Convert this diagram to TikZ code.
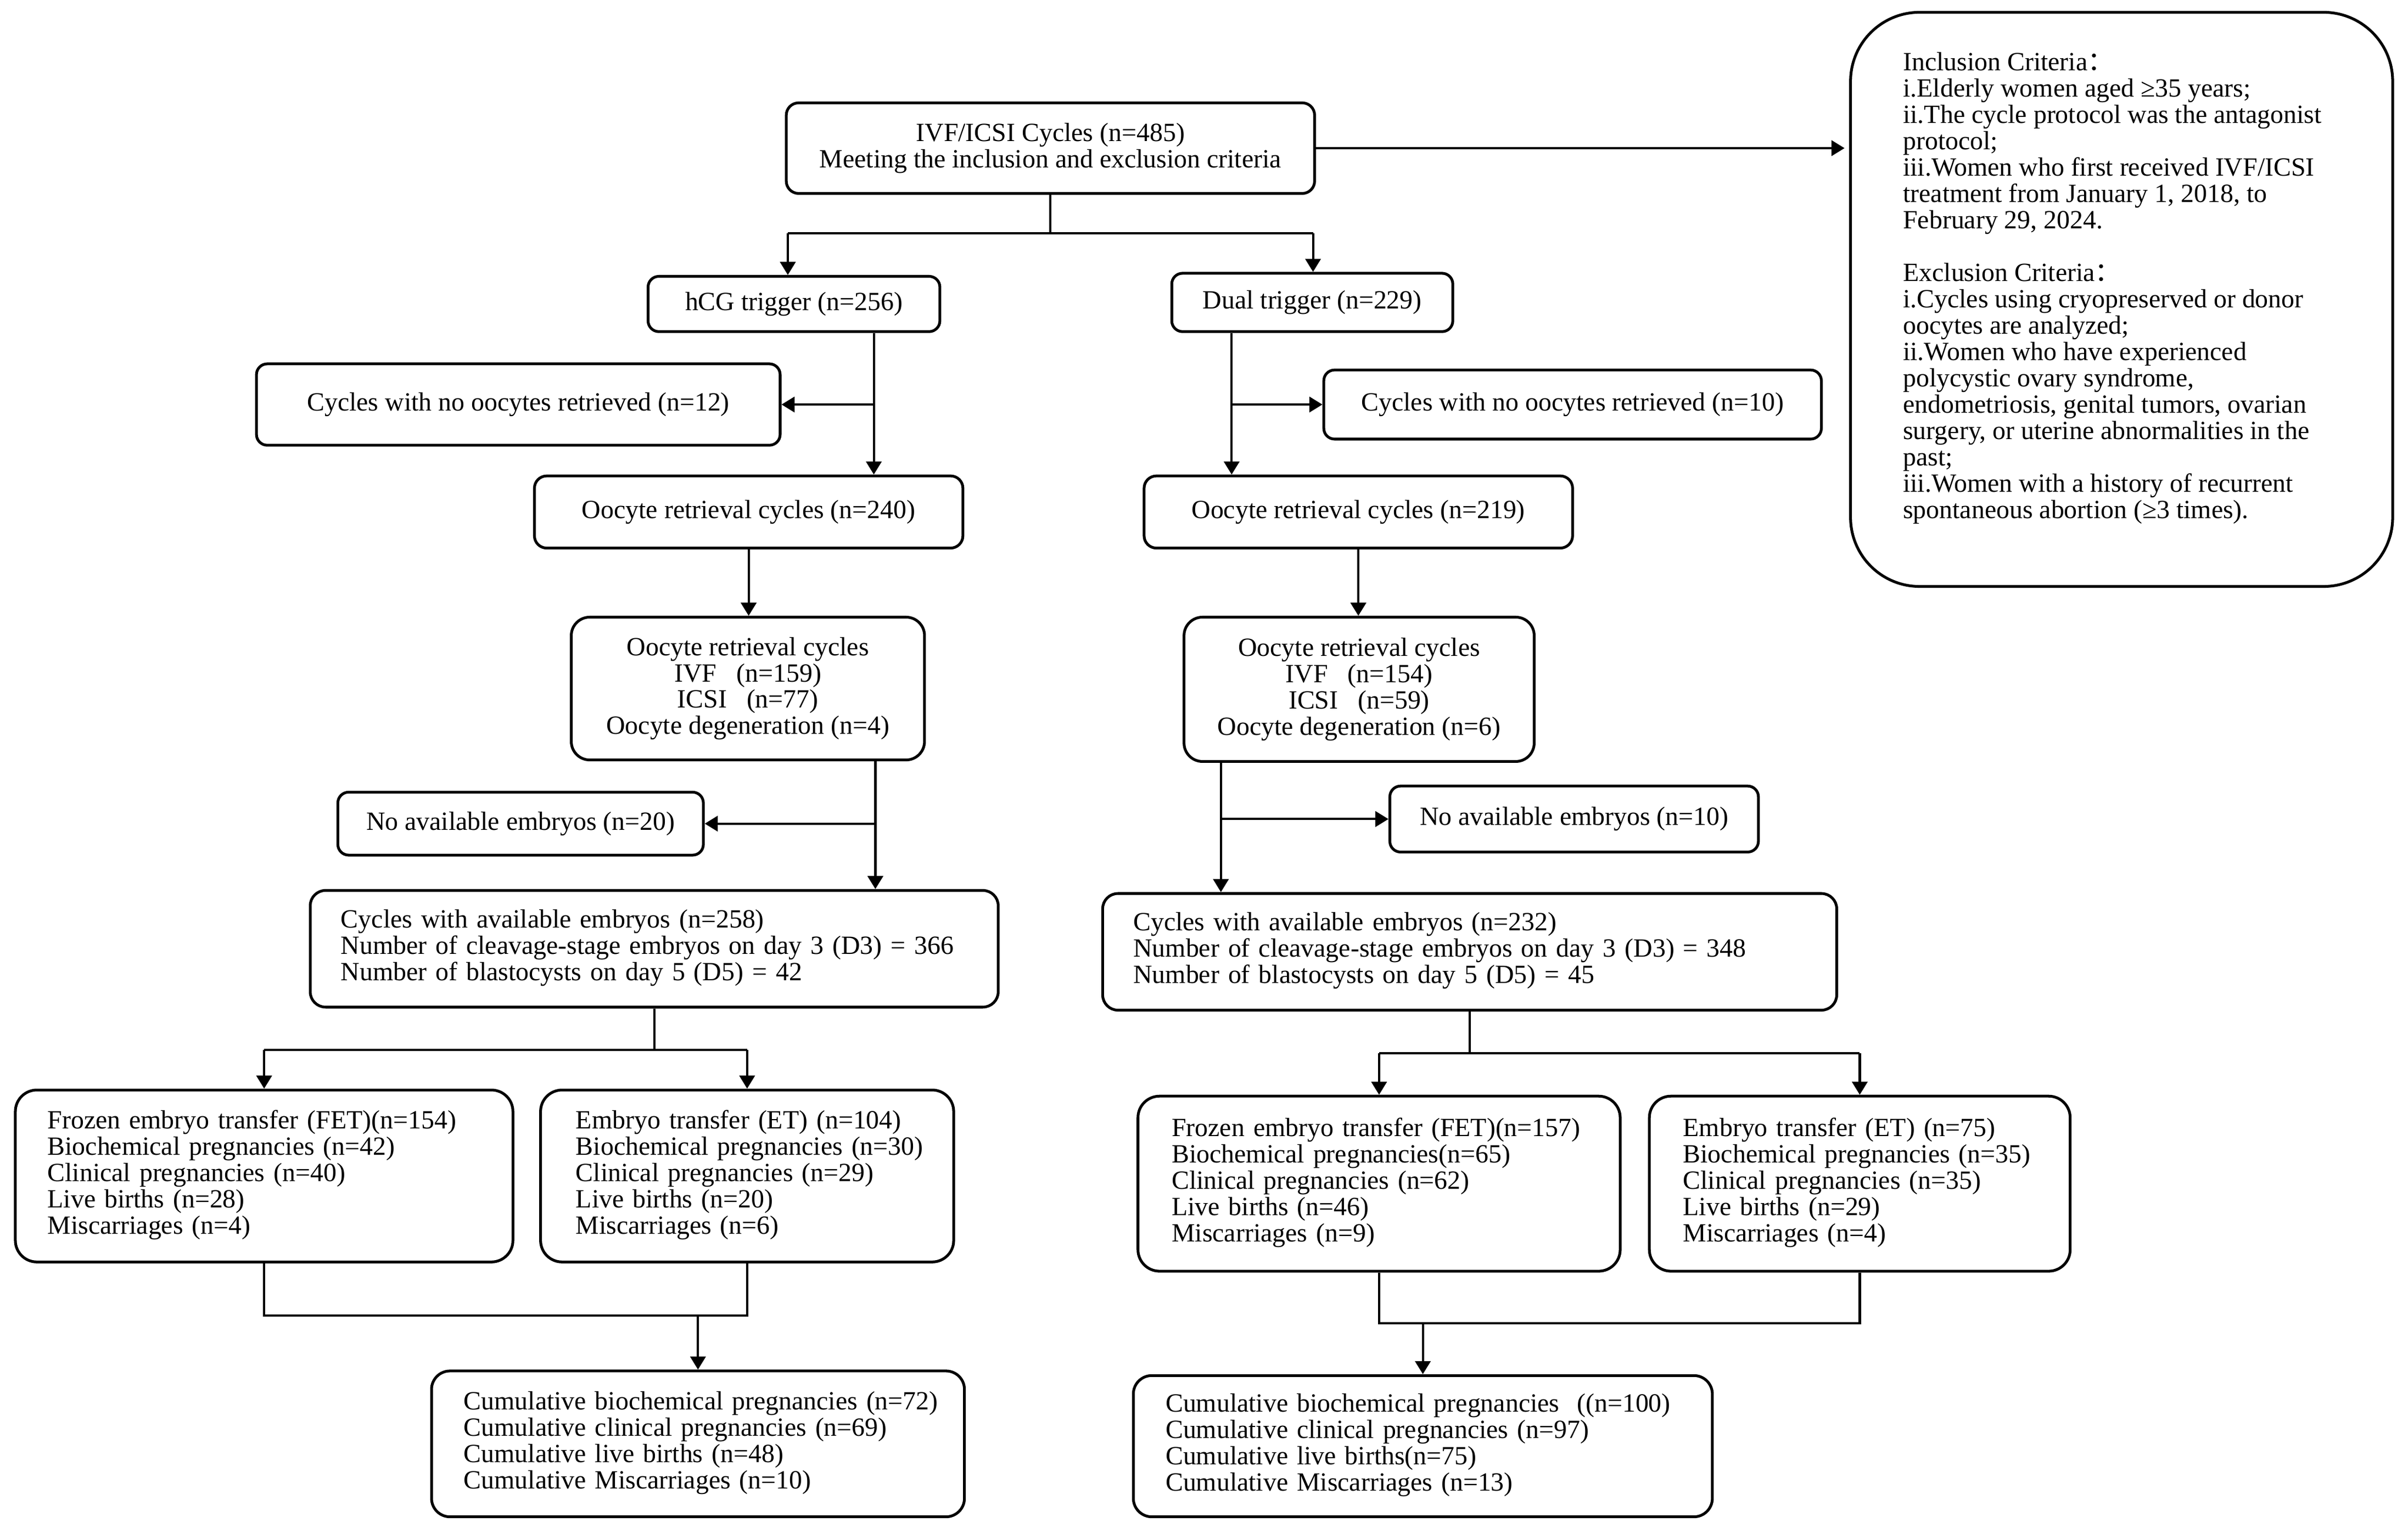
\documentclass[tikz,border=0pt]{standalone}
\usepackage{fontspec}
\setmainfont{Liberation Serif}
\newfontfamily\cjk{Noto Sans CJK SC}
\usetikzlibrary{arrows.meta}
\newcommand{\lines}[1]{\begin{tabular}{@{}l@{}}#1\end{tabular}}
\begin{document}
\begin{tikzpicture}[x=1pt,y=-1pt,
  every node/.style={font=\fontsize{17.1pt}{17.15pt}\selectfont},
  box/.style={draw, line width=1.8pt, rounded corners=#1, inner sep=0pt, align=center},
  box/.default=7pt,
  lbox/.style={draw, line width=1.8pt, rounded corners=#1, inner ysep=0pt, align=left},
  lbox/.default=12pt,
  conn/.style={line width=1.5pt},
  arr/.style={line width=1.5pt, -{Triangle[length=8.5pt,width=10pt]}}]
\useasboundingbox (0,0) rectangle (1568,998.9);

% boxes
\node[box=8pt, minimum width=344pt, minimum height=59pt] (main) at (684,96.5)
  {IVF/ICSI Cycles (n=485)\\Meeting the inclusion and exclusion criteria};
\node[draw, line width=1.8pt, rounded corners=45pt, minimum width=353pt, minimum height=374pt] (crit) at (1381.5,195) {};
\node[anchor=north west, inner sep=0pt, align=left] (crittext) at (1239,34)
  {Inclusion Criteria{\cjk ：}\\
   i.Elderly women aged ≥35 years;\\
   ii.The cycle protocol was the antagonist\\
   protocol;\\
   iii.Women who first received IVF/ICSI\\
   treatment from January 1, 2018, to\\
   February 29, 2024.\\[17.15pt]
   Exclusion Criteria{\cjk ：}\\
   i.Cycles using cryopreserved or donor\\
   oocytes are analyzed;\\
   ii.Women who have experienced\\
   polycystic ovary syndrome,\\
   endometriosis, genital tumors, ovarian\\
   surgery, or uterine abnormalities in the\\
   past;\\
   iii.Women with a history of recurrent\\
   spontaneous abortion (≥3 times).};

\node[box, minimum width=190pt, minimum height=36pt] (hcg) at (517,198) {hCG trigger (n=256)};
\node[box, minimum width=183pt, minimum height=38pt] (dual) at (854.5,197) {Dual trigger (n=229)};

\node[box, minimum width=341pt, minimum height=53pt] (noL) at (337.5,263.5) {Cycles with no oocytes retrieved (n=12)};
\node[box, minimum width=324pt, minimum height=45pt] (noR) at (1024,263.5) {Cycles with no oocytes retrieved (n=10)};

\node[box=8pt, minimum width=279pt, minimum height=47pt] (orL) at (487.5,333.5) {Oocyte retrieval cycles (n=240)};
\node[box=8pt, minimum width=279pt, minimum height=47pt] (orR) at (884.5,333.5) {Oocyte retrieval cycles (n=219)};

\node[box=12pt, minimum width=230pt, minimum height=93pt] (ivfL) at (487,448.5)
  {Oocyte retrieval cycles\\IVF\ \ \ (n=159)\\ICSI\ \ \ (n=77)\\Oocyte degeneration (n=4)};
\node[box=12pt, minimum width=228pt, minimum height=94pt] (ivfR) at (885,449)
  {Oocyte retrieval cycles\\IVF\ \ \ (n=154)\\ICSI\ \ \ (n=59)\\Oocyte degeneration (n=6)};

\node[box, minimum width=238pt, minimum height=41pt] (naL) at (339,536.5) {No available embryos (n=20)};
\node[box, minimum width=240pt, minimum height=43pt] (naR) at (1025,533.5) {No available embryos (n=10)};

\node[lbox=10pt, text width=408pt, inner xsep=20pt, minimum height=76pt] (cycL) at (426,618)
  {\lines{Cycles with available embryos (n=258)\\Number of cleavage-stage embryos on day 3 (D3) = 366\\Number of blastocysts on day 5 (D5) = 42}};
\node[lbox=10pt, text width=438pt, inner xsep=20pt, minimum height=76pt] (cycR) at (957,620)
  {\lines{Cycles with available embryos (n=232)\\Number of cleavage-stage embryos on day 3 (D3) = 348\\Number of blastocysts on day 5 (D5) = 45}};

\node[lbox=14pt, text width=282pt, inner xsep=21pt, minimum height=112pt] (fetL) at (172,766)
  {\lines{Frozen embryo transfer (FET)(n=154)\\Biochemical pregnancies (n=42)\\Clinical pregnancies (n=40)\\Live births (n=28)\\Miscarriages (n=4)}};
\node[lbox=14pt, text width=223pt, inner xsep=23pt, minimum height=112pt] (etL) at (486.5,766)
  {\lines{Embryo transfer (ET) (n=104)\\Biochemical pregnancies (n=30)\\Clinical pregnancies (n=29)\\Live births (n=20)\\Miscarriages (n=6)}};
\node[lbox=14pt, text width=270pt, inner xsep=22pt, minimum height=114pt] (fetR) at (898,771)
  {\lines{Frozen embryo transfer (FET)(n=157)\\Biochemical pregnancies(n=65)\\Clinical pregnancies (n=62)\\Live births (n=46)\\Miscarriages (n=9)}};
\node[lbox=14pt, text width=230pt, inner xsep=22pt, minimum height=114pt] (etR) at (1211,771)
  {\lines{Embryo transfer (ET) (n=75)\\Biochemical pregnancies (n=35)\\Clinical pregnancies (n=35)\\Live births (n=29)\\Miscarriages (n=4)}};

\node[lbox=12pt, text width=305pt, inner xsep=21pt, minimum height=95pt] (cumL) at (454.5,940.5)
  {\lines{Cumulative biochemical pregnancies (n=72)\\Cumulative clinical pregnancies (n=69)\\Cumulative live births (n=48)\\Cumulative Miscarriages (n=10)}};
\node[lbox=12pt, text width=335pt, inner xsep=21pt, minimum height=92pt] (cumR) at (926.5,942)
  {\lines{Cumulative biochemical pregnancies\ \ ((n=100)\\Cumulative clinical pregnancies (n=97)\\Cumulative live births(n=75)\\Cumulative Miscarriages (n=13)}};

% helper coordinates
\coordinate (j1) at (684,152);
\coordinate (j1l) at (513,152);
\coordinate (j1r) at (855,152);
\coordinate (xa) at (569,0);
\coordinate (xb) at (802,0);
\coordinate (xc) at (570,0);
\coordinate (xd) at (795,0);
\coordinate (j2) at (426,684);
\coordinate (j3) at (957,686);
\coordinate (y4) at (0,857);
\coordinate (y5) at (0,862);

% connectors
\draw[arr, shorten >=3pt] (main.east) -- (main.east -| crit.west);
\draw[conn] (main.south) -- (j1);
\draw[conn] (j1l) -- (j1r);
\draw[arr] (j1l) -- (j1l |- hcg.north);
\draw[arr] (j1r) -- (j1r |- dual.north);

\draw[arr] (hcg.south -| xa) -- (orL.north -| xa);
\draw[arr] (xa |- noL.east) -- (noL.east);
\draw[arr] (dual.south -| xb) -- (orR.north -| xb);
\draw[arr] (xb |- noR.west) -- (noR.west);

\draw[arr] (orL.south) -- (orL.south |- ivfL.north);
\draw[arr] (orR.south) -- (orR.south |- ivfR.north);

\draw[arr] (ivfL.south -| xc) -- (cycL.north -| xc);
\draw[arr] (xc |- naL.east) -- (naL.east);
\draw[arr] (ivfR.south -| xd) -- (cycR.north -| xd);
\draw[arr] (xd |- naR.west) -- (naR.west);

\draw[conn] (cycL.south) -- (j2);
\draw[conn] (j2 -| fetL.north) -- (j2 -| etL.north);
\draw[arr] (j2 -| fetL.north) -- (fetL.north);
\draw[arr] (j2 -| etL.north) -- (etL.north);
\draw[conn] (cycR.south) -- (j3);
\draw[conn] (j3 -| fetR.north) -- (j3 -| etR.north);
\draw[arr] (j3 -| fetR.north) -- (fetR.north);
\draw[arr] (j3 -| etR.north) -- (etR.north);

\draw[conn] (fetL.south) -- (fetL.south |- y4) -- (etL.south |- y4) -- (etL.south);
\draw[arr] (cumL.north |- y4) -- (cumL.north);
\draw[conn] (fetR.south) -- (fetR.south |- y5) -- (etR.south |- y5) -- (etR.south);
\draw[arr] (cumR.north |- y5) -- (cumR.north);
\end{tikzpicture}
\end{document}
